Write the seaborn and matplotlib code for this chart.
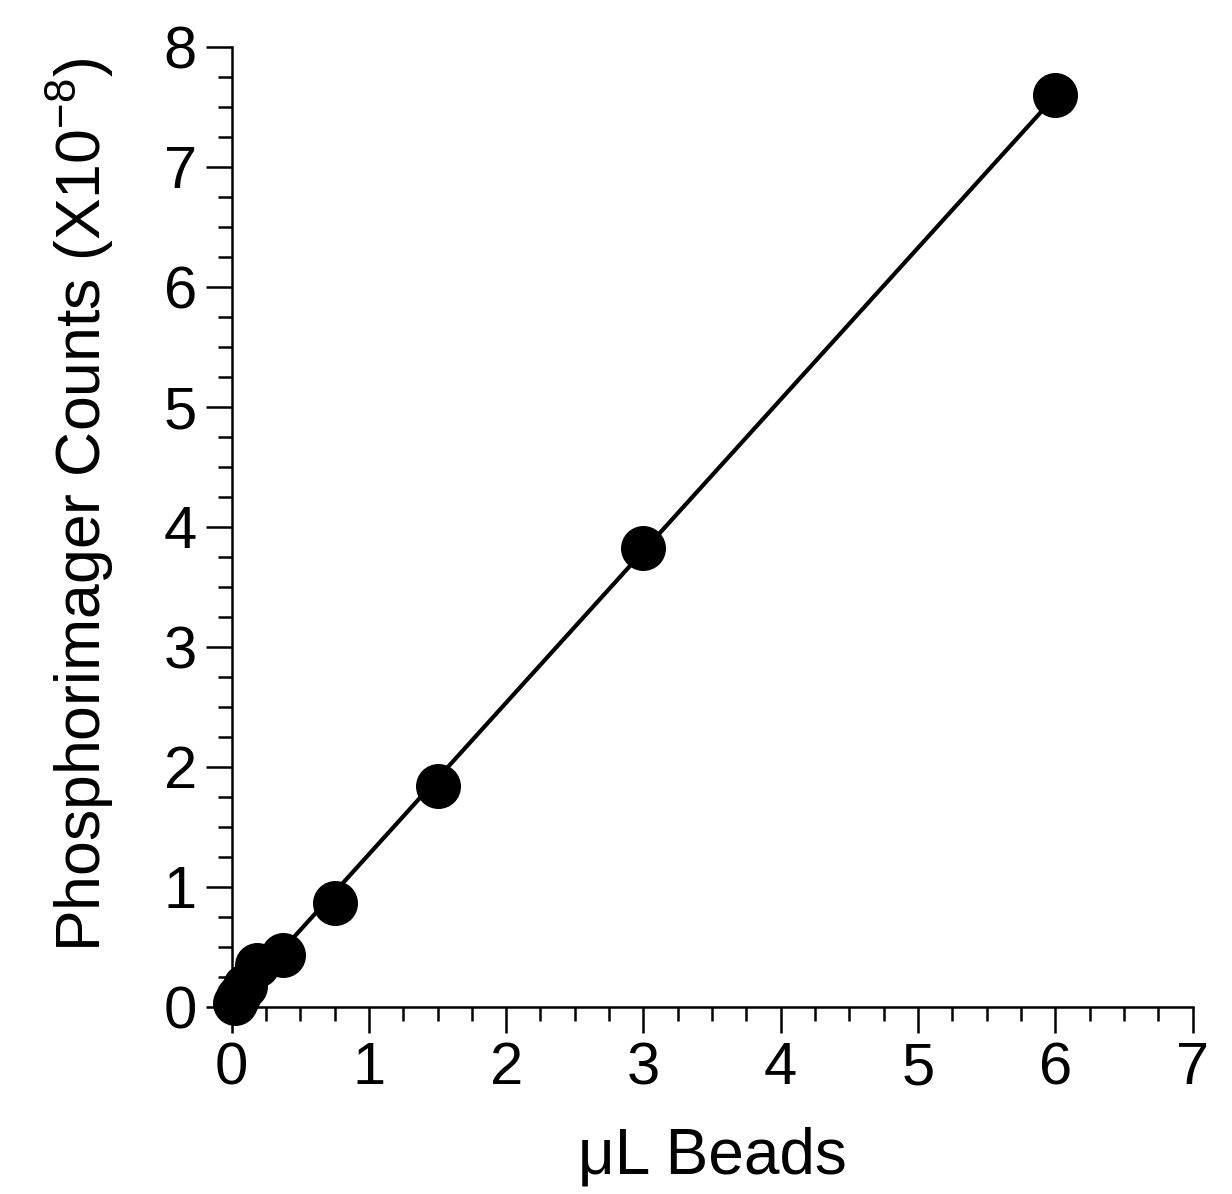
import matplotlib
matplotlib.use("Agg")
import matplotlib.pyplot as plt
import seaborn as sns
import numpy as np
import pandas as pd
from matplotlib.ticker import MultipleLocator

beads_ul = [0.023, 0.047, 0.094, 0.1875, 0.375, 0.75, 1.5, 3.0, 6.0]
counts = [0.03, 0.08, 0.17, 0.35, 0.43, 0.86, 1.84, 3.82, 7.6]
x_ticks = [0, 1, 2, 3, 4, 5, 6, 7]
y_ticks = [0, 1, 2, 3, 4, 5, 6, 7, 8]

df = pd.DataFrame({"beads": beads_ul, "counts": counts})

sns.set_theme(style="ticks")
plt.rcParams['font.family'] = ['Liberation Sans', 'DejaVu Sans']
plt.rcParams['mathtext.fontset'] = 'custom'
plt.rcParams['mathtext.rm'] = 'Liberation Sans'
plt.rcParams['mathtext.it'] = 'Liberation Sans'
plt.rcParams['text.color'] = 'black'
plt.rcParams['axes.labelcolor'] = 'black'

fig = plt.figure(figsize=(12.32, 11.94), dpi=100)
ax = fig.add_axes([0.188, 0.157, 0.780, 0.804])

sns.regplot(data=df, x="beads", y="counts", ax=ax, ci=None, truncate=True,
            scatter_kws=dict(s=1050, color="black", edgecolor="black", linewidths=0,
                             clip_on=False, zorder=3, alpha=1),
            line_kws=dict(color="black", lw=3.0, zorder=2))

ax.set_xlim(0, 7)
ax.set_ylim(0, 8)
ax.set_xticks(x_ticks)
ax.set_yticks(y_ticks)
ax.xaxis.set_minor_locator(MultipleLocator(0.25))
ax.yaxis.set_minor_locator(MultipleLocator(0.25))
ax.tick_params(which="major", length=19, width=1.8, labelsize=43, pad=6, colors="black")
ax.tick_params(which="minor", length=10, width=1.8, colors="black")
for s in ["top", "right"]:
    ax.spines[s].set_visible(False)
for s in ["left", "bottom"]:
    ax.spines[s].set_linewidth(1.8)
    ax.spines[s].set_color("black")

ax.set_xlabel("\u03bcL Beads", fontsize=46, labelpad=22, color="black")
ax.set_ylabel("Phosphorimager Counts (X10$^{-8}$)", fontsize=45, color="black")
ax.yaxis.set_label_coords(-0.12, 0.523)

fig.savefig("out.png", dpi=100)
